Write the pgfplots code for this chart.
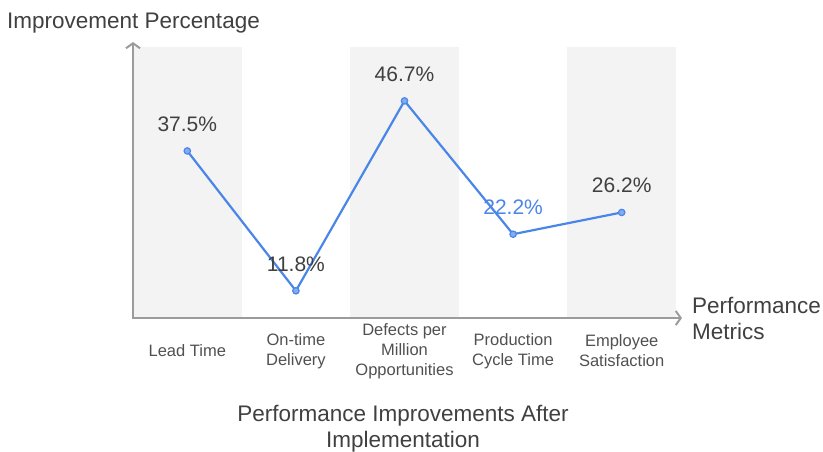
\documentclass[border=0pt]{standalone}
\usepackage{pgfplots}
\pgfplotsset{compat=1.18}
\usepackage{fontspec}
\setmainfont{Liberation Sans}
\usetikzlibrary{arrows.meta}
\definecolor{lineblue}{RGB}{74,134,232}
\definecolor{markfill}{RGB}{130,172,240}
\definecolor{bandgray}{RGB}{243,243,243}
\definecolor{axisgray}{RGB}{155,155,155}
\definecolor{txt}{RGB}{64,64,64}
\definecolor{ticktxt}{RGB}{80,80,80}
\begin{document}
\begin{tikzpicture}[x=1pt,y=1pt]
\useasboundingbox (0,0) rectangle (823,-451);
\begin{axis}[
  at={(133pt,-318pt)}, anchor=south west,
  scale only axis, width=543pt, height=271pt,
  xmin=-0.5, xmax=4.5, ymin=6.8, ymax=56.6,
  axis line style={draw=none},
  xtick={0,1,2,3,4}, ytick=\empty,
  xticklabels={Lead Time, On-time\\Delivery, Defects per\\Million\\Opportunities, Production\\Cycle Time, Employee\\Satisfaction},
  major tick length=0pt,
  tick style={draw=none},
  xticklabel style={anchor=center, yshift=-33pt, align=center, font=\fontsize{16.5}{20}\selectfont, text=ticktxt},
  /pgf/number format/assume math mode=true,
  clip=false,
]
\fill[bandgray] (axis cs:-0.5,6.8) rectangle (axis cs:0.5,56.6);
\fill[bandgray] (axis cs:1.5,6.8) rectangle (axis cs:2.5,56.6);
\fill[bandgray] (axis cs:3.5,6.8) rectangle (axis cs:4.5,56.6);
\draw[axisgray, line width=2pt, {Straight Barb[length=5pt,width=14pt]}-{Straight Barb[length=5pt,width=14pt]}]
  ([yshift=5pt]axis cs:-0.5,56.6) -- (axis cs:-0.5,6.8) -- ([xshift=6pt]axis cs:4.5,6.8);
\addplot[lineblue, line width=2.2pt, mark=*, mark size=3.2pt,
  mark options={fill=markfill, draw=lineblue, line width=1.2pt},
  nodes near coords={\ifnum\coordindex=3 \color{lineblue}\else\color{txt}\fi\pgfmathprintnumber[fixed,fixed zerofill,precision=1,assume math mode=true]{\pgfplotspointmeta}\%},
  every node near coord/.append style={anchor=base, yshift=19.5pt, inner sep=0pt, font=\fontsize{21}{24}\selectfont}]
  coordinates {(0,37.5) (1,11.8) (2,46.7) (3,22.2) (4,26.2)};
\end{axis}
\node[anchor=base west, inner sep=0pt, text=txt, font=\fontsize{22.5}{26}\selectfont] at (7,-28.3) {Improvement Percentage};
\node[anchor=base west, inner sep=0pt, text=txt, font=\fontsize{22.5}{26}\selectfont] at (692,-313.3) {Performance};
\node[anchor=base west, inner sep=0pt, text=txt, font=\fontsize{22.5}{26}\selectfont] at (692,-339.3) {Metrics};
\node[anchor=base, inner sep=0pt, text=txt, font=\fontsize{22.5}{26}\selectfont] at (403,-421.7) {Performance Improvements After};
\node[anchor=base, inner sep=0pt, text=txt, font=\fontsize{22.5}{26}\selectfont] at (403,-447.3) {Implementation};
\end{tikzpicture}
\end{document}
